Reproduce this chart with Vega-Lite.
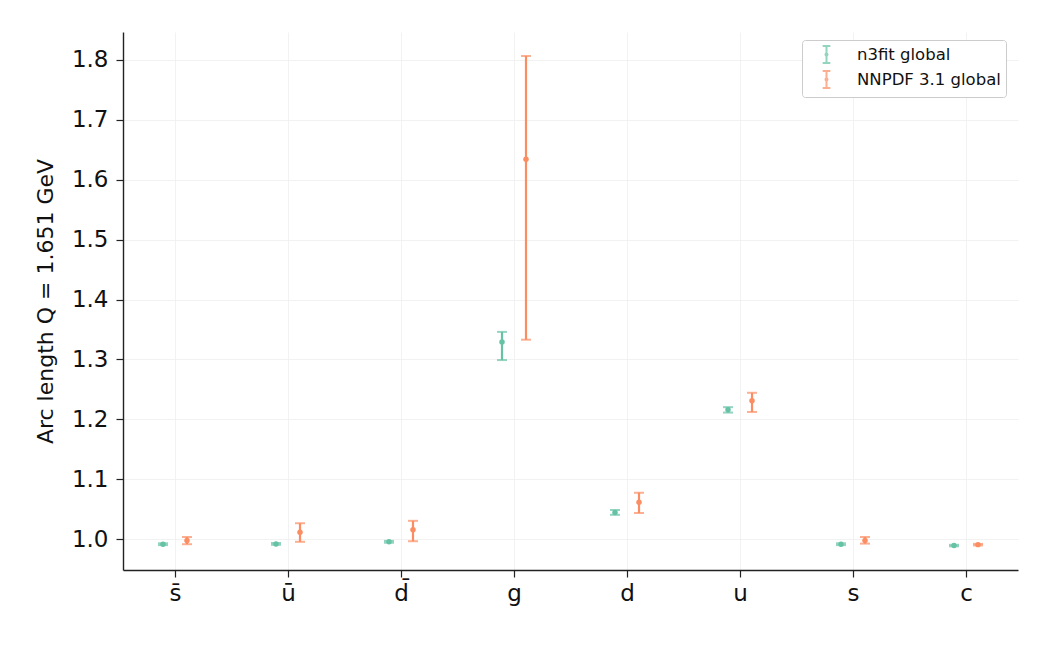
{
  "$schema": "https://vega.github.io/schema/vega-lite/v6.json",
  "width": 895,
  "height": 538,
  "autosize": {"type": "none"},
  "padding": {"left": 123, "top": 32, "right": 32, "bottom": 75},
  "background": "white",
  "config": {
    "font": "DejaVu Sans",
    "view": {"stroke": null},
    "axis": {
      "domainColor": "#222222",
      "domainWidth": 1.4,
      "tickColor": "#222222",
      "tickWidth": 1.2,
      "tickSize": 7,
      "labelFont": "DejaVu Sans",
      "labelFontSize": 23,
      "labelColor": "#111111",
      "titleFont": "DejaVu Sans",
      "titleFontSize": 22,
      "titleFontWeight": "normal",
      "titleColor": "#111111",
      "gridColor": "#efefef",
      "gridWidth": 0.8
    }
  },
  "data": {
    "values": [
      {"flavour": "s̄", "fit": "n3fit global", "value": 0.992, "lo": 0.9905, "hi": 0.9935},
      {"flavour": "s̄", "fit": "NNPDF 3.1 global", "value": 0.998, "lo": 0.992, "hi": 1.004},
      {"flavour": "ū", "fit": "n3fit global", "value": 0.9925, "lo": 0.991, "hi": 0.994},
      {"flavour": "ū", "fit": "NNPDF 3.1 global", "value": 1.012, "lo": 0.996, "hi": 1.027},
      {"flavour": "d̄", "fit": "n3fit global", "value": 0.996, "lo": 0.9945, "hi": 0.9975},
      {"flavour": "d̄", "fit": "NNPDF 3.1 global", "value": 1.016, "lo": 0.997, "hi": 1.031},
      {"flavour": "g", "fit": "n3fit global", "value": 1.329, "lo": 1.299, "hi": 1.346},
      {"flavour": "g", "fit": "NNPDF 3.1 global", "value": 1.634, "lo": 1.333, "hi": 1.806},
      {"flavour": "d", "fit": "n3fit global", "value": 1.045, "lo": 1.041, "hi": 1.049},
      {"flavour": "d", "fit": "NNPDF 3.1 global", "value": 1.062, "lo": 1.044, "hi": 1.078},
      {"flavour": "u", "fit": "n3fit global", "value": 1.216, "lo": 1.2115, "hi": 1.2205},
      {"flavour": "u", "fit": "NNPDF 3.1 global", "value": 1.231, "lo": 1.2125, "hi": 1.2445},
      {"flavour": "s", "fit": "n3fit global", "value": 0.992, "lo": 0.9905, "hi": 0.9935},
      {"flavour": "s", "fit": "NNPDF 3.1 global", "value": 0.998, "lo": 0.993, "hi": 1.004},
      {"flavour": "c", "fit": "n3fit global", "value": 0.9897, "lo": 0.9885, "hi": 0.991},
      {"flavour": "c", "fit": "NNPDF 3.1 global", "value": 0.9913, "lo": 0.990, "hi": 0.9925}
    ]
  },
  "encoding": {
    "x": {
      "field": "flavour",
      "type": "nominal",
      "scale": {"type": "point", "padding": 0.46, "domain": ["s̄", "ū", "d̄", "g", "d", "u", "s", "c"]},
      "axis": {"title": null, "labelAngle": 0, "grid": true, "labelPadding": 5}
    },
    "xOffset": {
      "field": "fit",
      "type": "nominal",
      "scale": {"domain": ["n3fit global", "NNPDF 3.1 global"], "range": [-24, 24]}
    },
    "color": {
      "field": "fit",
      "type": "nominal",
      "scale": {"domain": ["n3fit global", "NNPDF 3.1 global"], "range": ["#66c2a5", "#fc8d62"]},
      "legend": {
        "title": null,
        "orient": "none",
        "legendX": 679,
        "legendY": 8,
        "labelFontSize": 16.5,
        "labelFont": "DejaVu Sans",
        "labelColor": "#111111",
        "symbolType": "M0,-1L0,1M-0.45,-1L0.45,-1M-0.45,1L0.45,1M-0.12,0a0.12,0.12 0 1,0 0.24,0a0.12,0.12 0 1,0 -0.24,0",
        "symbolSize": 289,
        "symbolStrokeWidth": 2,
        "symbolFillColor": "transparent",
        "symbolOffset": 10,
        "padding": 5,
        "rowPadding": 0,
        "labelOffset": 21,
        "strokeColor": "#cccccc",
        "fillColor": "white",
        "cornerRadius": 3
      }
    }
  },
  "layer": [
    {
      "mark": {"type": "rule", "strokeWidth": 2.2},
      "encoding": {
        "y": {
          "field": "lo",
          "type": "quantitative",
          "scale": {"domain": [0.949, 1.846], "nice": false, "zero": false},
          "axis": {
            "title": "Arc length Q = 1.651 GeV",
            "values": [1.0, 1.1, 1.2, 1.3, 1.4, 1.5, 1.6, 1.7, 1.8],
            "format": ".1f",
            "grid": true,
            "labelPadding": 8,
            "titlePadding": 14
          }
        },
        "y2": {"field": "hi"}
      }
    },
    {
      "mark": {"type": "tick", "size": 10, "thickness": 2},
      "encoding": {"y": {"field": "lo", "type": "quantitative"}}
    },
    {
      "mark": {"type": "tick", "size": 10, "thickness": 2},
      "encoding": {"y": {"field": "hi", "type": "quantitative"}}
    },
    {
      "mark": {"type": "point", "filled": true, "opacity": 1, "size": 30, "shape": "circle"},
      "encoding": {"y": {"field": "value", "type": "quantitative"}}
    }
  ]
}
